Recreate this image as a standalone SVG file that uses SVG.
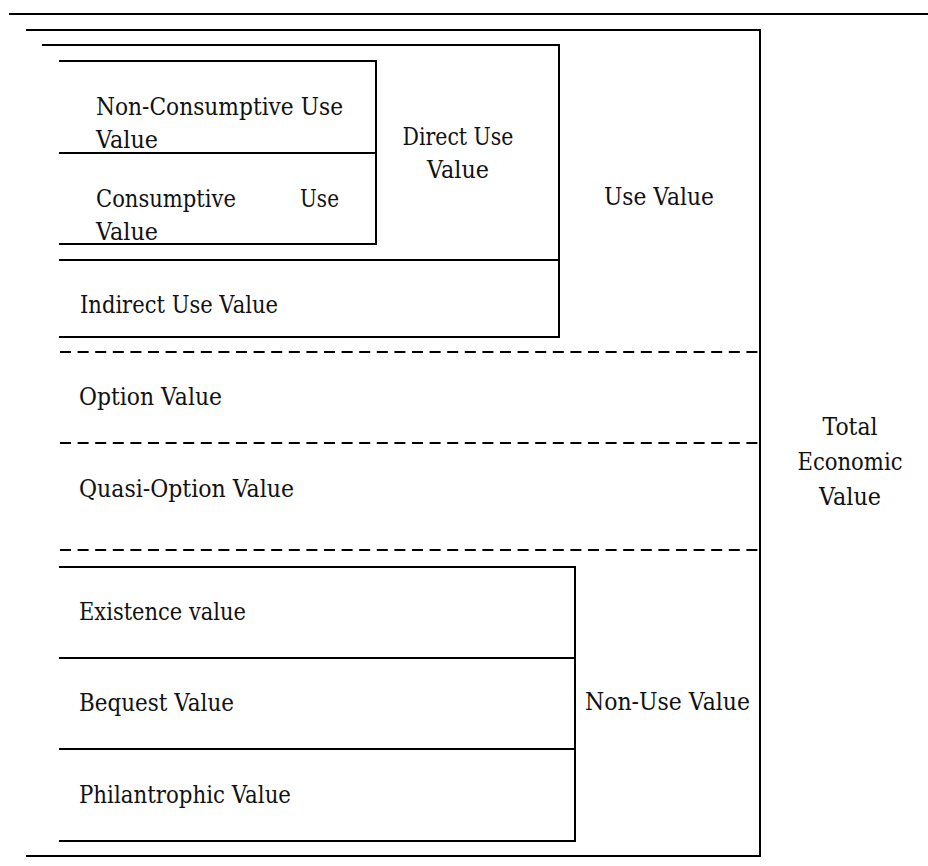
<svg xmlns="http://www.w3.org/2000/svg" width="928" height="866" viewBox="0 0 928 866">
  <style>
    .ln { stroke: #000; stroke-width: 2; fill: none; stroke-linecap: square; }
    .dash { stroke: #000; stroke-width: 2; fill: none; stroke-dasharray: 11 6.6; }
    .lbl { font-family: 'DejaVu Serif', serif; font-size: 24px; fill: #111; }
    .mid { text-anchor: middle; }
  </style>
  <rect width="928" height="866" fill="#fff"/>

  <!-- page rule -->
  <line class="ln" x1="10" y1="14" x2="928" y2="14"/>

  <g class="lbl">
  <!-- Total Economic Value: outer open-left frame -->
  <g id="total-economic-value">
    <path class="ln" d="M27 30 H760 V856 H27"/>
    <text class="mid" x="850" y="435" textLength="55" lengthAdjust="spacingAndGlyphs">Total</text>
    <text class="mid" x="850" y="470" textLength="105" lengthAdjust="spacingAndGlyphs">Economic</text>
    <text class="mid" x="850" y="505" textLength="62" lengthAdjust="spacingAndGlyphs">Value</text>
  </g>

  <g id="use-value">
    <text x="604" y="205" textLength="110" lengthAdjust="spacingAndGlyphs">Use Value</text>
  </g>

  <!-- Direct Use Value frame -->
  <g id="direct-use-value">
    <path class="ln" d="M43 45 H559 V337 H60"/>
    <line class="ln" x1="60" y1="260" x2="559" y2="260"/>
    <text class="mid" x="458" y="145" textLength="111" lengthAdjust="spacingAndGlyphs">Direct Use</text>
    <text class="mid" x="458" y="178" textLength="62" lengthAdjust="spacingAndGlyphs">Value</text>
  </g>

  <g id="non-consumptive-use-value">
    <path class="ln" d="M60 61 H376 V244 H60"/>
    <line class="ln" x1="60" y1="153" x2="376" y2="153"/>
    <text x="96" y="115" textLength="247" lengthAdjust="spacingAndGlyphs">Non-Consumptive Use</text>
    <text x="96" y="148" textLength="62" lengthAdjust="spacingAndGlyphs">Value</text>
  </g>

  <g id="consumptive-use-value">
    <text x="96" y="207" textLength="140" lengthAdjust="spacingAndGlyphs">Consumptive</text>
    <text x="300" y="207" textLength="39" lengthAdjust="spacingAndGlyphs">Use</text>
    <text x="96" y="240" textLength="62" lengthAdjust="spacingAndGlyphs">Value</text>
  </g>

  <g id="indirect-use-value">
    <text x="80" y="313" textLength="198" lengthAdjust="spacingAndGlyphs">Indirect Use Value</text>
  </g>

  <!-- dashed dividers between value bands -->
  <g id="dividers">
    <line class="dash" x1="60" y1="352" x2="760" y2="352"/>
    <line class="dash" x1="60" y1="443" x2="760" y2="443"/>
    <line class="dash" x1="60" y1="550" x2="760" y2="550"/>
  </g>

  <g id="option-value">
    <text x="79" y="405" textLength="143" lengthAdjust="spacingAndGlyphs">Option Value</text>
  </g>

  <g id="quasi-option-value">
    <text x="79" y="497" textLength="215" lengthAdjust="spacingAndGlyphs">Quasi-Option Value</text>
  </g>

  <!-- Non-Use Value frame -->
  <g id="non-use-value">
    <path class="ln" d="M60 567 H575 V841 H60"/>
    <line class="ln" x1="60" y1="658" x2="575" y2="658"/>
    <line class="ln" x1="60" y1="749" x2="575" y2="749"/>
    <text x="585" y="710" textLength="165" lengthAdjust="spacingAndGlyphs">Non-Use Value</text>
  </g>

  <g id="existence-value">
    <text x="79" y="620" textLength="167" lengthAdjust="spacingAndGlyphs">Existence value</text>
  </g>

  <g id="bequest-value">
    <text x="79" y="711" textLength="155" lengthAdjust="spacingAndGlyphs">Bequest Value</text>
  </g>

  <g id="philantrophic-value">
    <text x="79" y="803" textLength="212" lengthAdjust="spacingAndGlyphs">Philantrophic Value</text>
  </g>
  </g>
</svg>
